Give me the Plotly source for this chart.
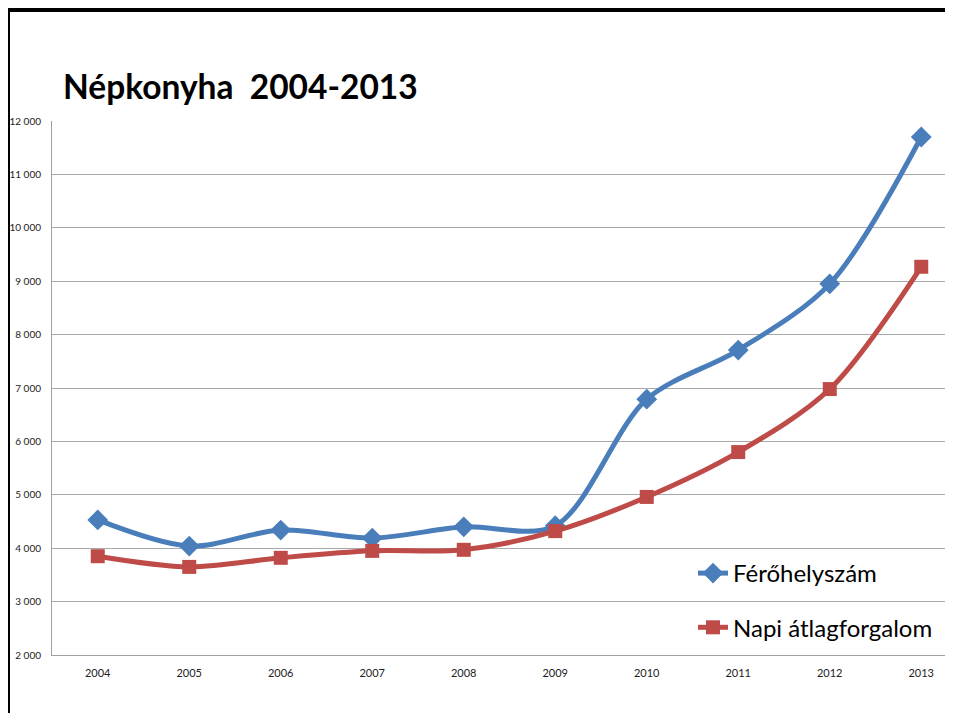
import plotly.graph_objects as go

years = ['2004', '2005', '2006', '2007', '2008', '2009', '2010', '2011', '2012', '2013']
ferohely = [4530, 4040, 4340, 4190, 4400, 4420, 6790, 7710, 8950, 11700]
napi_forgalom = [3850, 3650, 3820, 3950, 3970, 4320, 4960, 5800, 6980, 9270]
y_ticks = [2000, 3000, 4000, 5000, 6000, 7000, 8000, 9000, 10000, 11000, 12000]
y_labels = ['2 000', '3 000', '4 000', '5 000', '6 000', '7 000', '8 000', '9 000', '10 000', '11 000', '12 000']

# page has an 8px body margin, so the figure is smaller and shifted
OFF = 8
W, H = 953 - 2 * OFF, 721 - 2 * OFF
L, T, B = 52 - OFF, 121 - OFF, 655 - OFF   # plot area in figure pixels
PW, PH = W - L, B - T


def px(x):
    return (x - OFF - L) / PW


def py(y):
    return (B - (y - OFF)) / PH


fig = go.Figure()
fig.add_trace(go.Scatter(
    x=years, y=ferohely, name='Férőhelyszám', mode='lines+markers', legendgroup='a',
    line=dict(color='#4a7ebb', width=5, shape='spline', smoothing=0.9),
    marker=dict(symbol='diamond', size=16, color='#4a7ebb'),
))
fig.add_trace(go.Scatter(
    x=years, y=napi_forgalom, name='Napi átlagforgalom', mode='lines+markers', legendgroup='b',
    line=dict(color='#be4b48', width=5, shape='spline', smoothing=0.9),
    marker=dict(symbol='square', size=14, color='#be4b48'),
))

# frame of the slide: black lines on top and left
shapes = [
    dict(type='rect', xref='paper', yref='paper', x0=px(8), x1=px(10), y0=py(730), y1=py(8),
         fillcolor='black', line_width=0, layer='above'),
    dict(type='rect', xref='paper', yref='paper', x0=px(8), x1=px(960), y0=py(12), y1=py(8),
         fillcolor='black', line_width=0, layer='above'),
]

fig.update_layout(
    width=W, height=H,
    margin=dict(l=L, r=0, t=T, b=H - B, pad=0),
    paper_bgcolor='white', plot_bgcolor='white',
    font=dict(family='Lato, sans-serif', color='#222'),
    title=dict(text='<b>Népkonyha  2004-2013</b>', x=px(63), xref='paper', xanchor='left',
               y=1 - (87 - OFF) / H, yanchor='middle', font=dict(size=33.5, color='black')),
    showlegend=True,
    legend=dict(x=px(693), y=py(551), xanchor='left', yanchor='top',
                bgcolor='rgba(0,0,0,0)', font=dict(size=24, color='black'),
                tracegroupgap=20, itemwidth=30),
    shapes=shapes,
)
fig.update_xaxes(type='category', range=[-0.5, -0.5 + PW / 91.5], showgrid=False, automargin=False,
                 showline=True, linecolor='#a0a0a0', linewidth=1, ticks='',
                 tickfont=dict(size=11, color='#222'), ticklabelstandoff=8)
fig.update_yaxes(range=[2000, 12000], tickvals=y_ticks, ticktext=y_labels, automargin=False,
                 showgrid=True, gridcolor='#a8a8a8', gridwidth=1, ticklabeloverflow='allow',
                 showline=True, linecolor='#a0a0a0', linewidth=1, zeroline=False,
                 ticks='', tickfont=dict(size=10, color='#222'), ticklabelstandoff=8)

fig.write_html('out.html')
